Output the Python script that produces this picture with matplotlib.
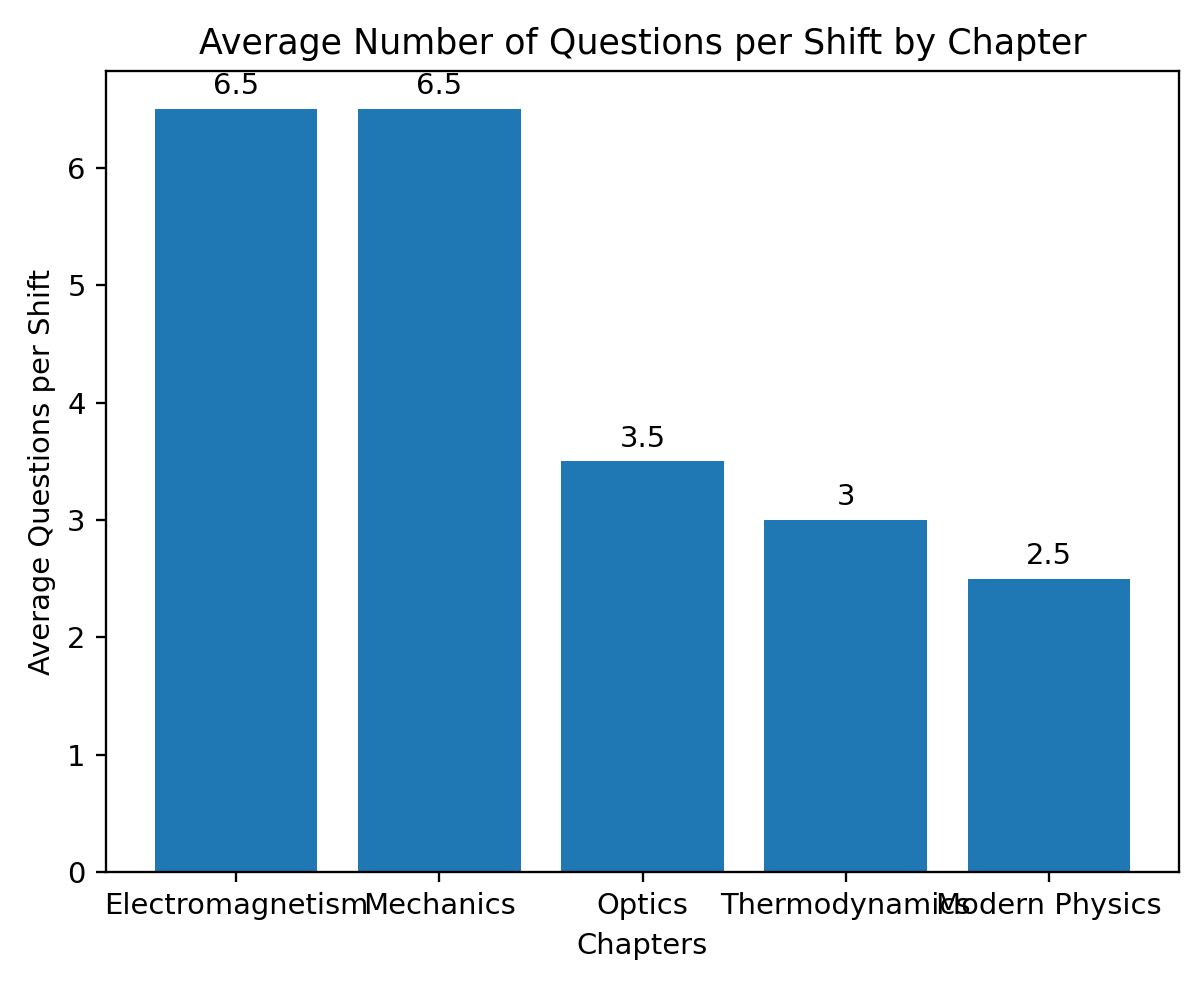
import matplotlib
matplotlib.use("Agg")
import matplotlib.pyplot as plt

chapters = ["Electromagnetism", "Mechanics", "Optics", "Thermodynamics", "Modern Physics"]
avg_questions = [6.5, 6.5, 3.5, 3, 2.5]
value_labels = ["6.5", "6.5", "3.5", "3", "2.5"]

dpi = 209
fig = plt.figure(figsize=(1200 / dpi, 986 / dpi), dpi=dpi)
ax = fig.add_axes([106 / 1200, 1 - 872 / 986, (1179 - 106) / 1200, (872 - 71) / 986])

bars = ax.bar(chapters, avg_questions, color="#1f77b4")
ax.bar_label(bars, labels=value_labels, padding=3)

ax.set_title("Average Number of Questions per Shift by Chapter")
ax.set_xlabel("Chapters")
ax.set_ylabel("Average Questions per Shift")

fig.savefig("out.png", dpi=dpi)
